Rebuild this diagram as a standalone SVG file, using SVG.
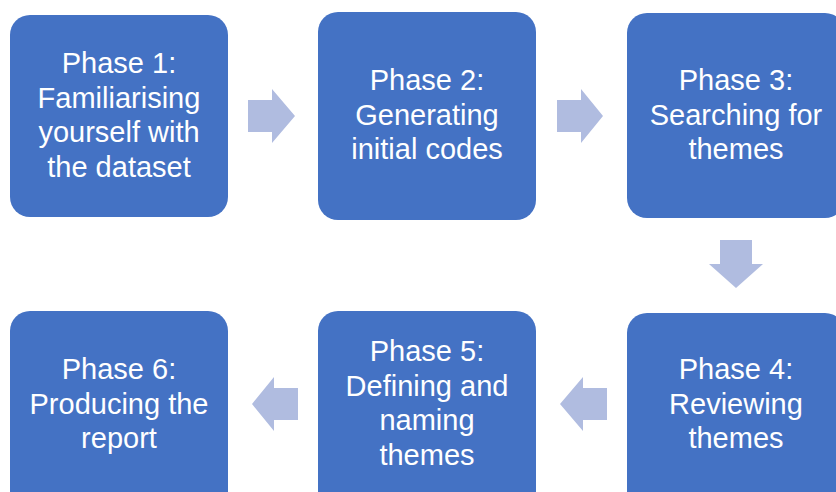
<svg xmlns="http://www.w3.org/2000/svg" width="836" height="492" viewBox="0 0 836 492">
<style>
.box{fill:#4472C4;}
.arrow{fill:#B0BCE0;}
.t{font-family:"Liberation Sans",Arial,sans-serif;font-size:29px;fill:#FFFFFF;text-anchor:middle;}
</style>
<rect width="836" height="492" fill="#FFFFFF"/>
<g id="connectors">
<path class="arrow" d="M248,100 H272 V89 L295,116 L272,143 V132 H248 Z"/>
<path class="arrow" d="M557,100 H581 V89 L603,116 L581,143 V132 H557 Z"/>
<path class="arrow" d="M720,240 H752 V264 H763 L736,288 L709,264 H720 Z"/>
<path class="arrow" d="M607,388 H583 V377 L560,404 L583,431 V420 H607 Z"/>
<path class="arrow" d="M298,388 H274 V377 L252,404 L274,431 V420 H298 Z"/>
</g>
<g id="phase1">
<rect class="box" x="10" y="15" width="218" height="202" rx="20"/>
<text class="t" x="119" y="73">Phase 1:</text>
<text class="t" x="119" y="108">Familiarising</text>
<text class="t" x="119" y="142">yourself with</text>
<text class="t" x="119" y="177">the dataset</text>
</g>
<g id="phase2">
<rect class="box" x="318" y="12" width="218" height="208" rx="20"/>
<text class="t" x="427" y="90">Phase 2:</text>
<text class="t" x="427" y="125">Generating</text>
<text class="t" x="427" y="159">initial codes</text>
</g>
<g id="phase3">
<rect class="box" x="627" y="13" width="218" height="205" rx="20"/>
<text class="t" x="736" y="90">Phase 3:</text>
<text class="t" x="736" y="125">Searching for</text>
<text class="t" x="736" y="159">themes</text>
</g>
<g id="phase4">
<rect class="box" x="627" y="313" width="218" height="200" rx="20"/>
<text class="t" x="736" y="379">Phase 4:</text>
<text class="t" x="736" y="414">Reviewing</text>
<text class="t" x="736" y="448">themes</text>
</g>
<g id="phase5">
<rect class="box" x="318" y="311" width="218" height="200" rx="20"/>
<text class="t" x="427" y="361">Phase 5:</text>
<text class="t" x="427" y="396">Defining and</text>
<text class="t" x="427" y="430">naming</text>
<text class="t" x="427" y="465">themes</text>
</g>
<g id="phase6">
<rect class="box" x="10" y="311" width="218" height="200" rx="20"/>
<text class="t" x="119" y="379">Phase 6:</text>
<text class="t" x="119" y="414">Producing the</text>
<text class="t" x="119" y="448">report</text>
</g>
</svg>
